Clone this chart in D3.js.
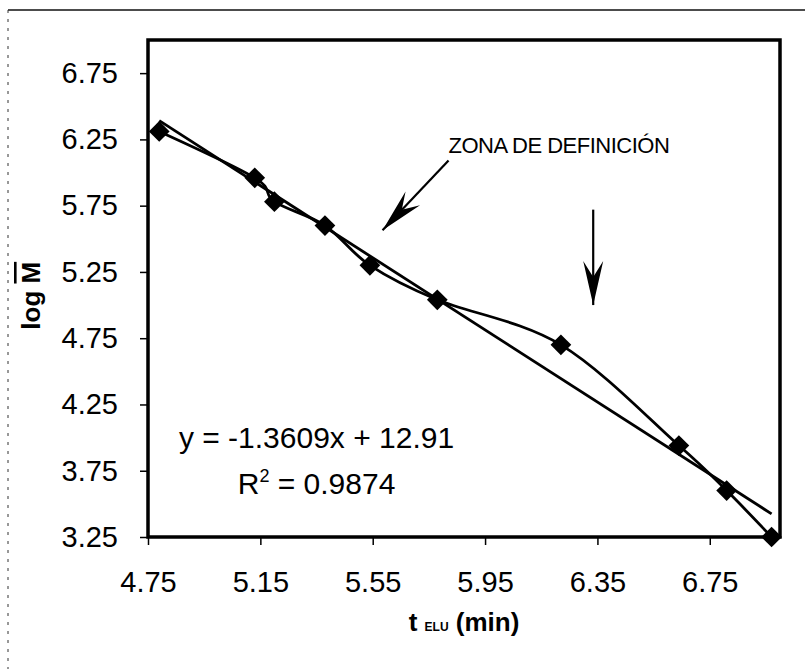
<!DOCTYPE html>
<html>
<head>
<meta charset="utf-8">
<script src="https://cdn.jsdelivr.net/npm/d3@7"></script>
<style>
  body { margin: 0; background: #fff; }
  svg text { font-family: Arial, "Liberation Sans", sans-serif; fill: #000; }
</style>
</head>
<body>
<script>
// elution time (min) vs log M of the standards
var tElu = [4.79, 5.13, 5.20, 5.38, 5.54, 5.78, 6.22, 6.64, 6.81, 6.97];
var logM = [6.31, 5.96, 5.78, 5.60, 5.30, 5.04, 4.70, 3.94, 3.60, 3.25];

// linear fit printed on the chart
var slope = -1.3609, intercept = 12.91;
var eqLines = ['y = -1.3609x + 12.91', 'R2 = 0.9874'];

var xTicks = [4.75, 5.15, 5.55, 5.95, 6.35, 6.75];
var yTicks = [3.25, 3.75, 4.25, 4.75, 5.25, 5.75, 6.25, 6.75];

var width = 807, height = 669;
var margin = {left: 148, right: 27, top: 40, bottom: 132};

var svg = d3.select('body').append('svg')
    .attr('width', width)
    .attr('height', height);

// x = t, y = log M
var x = d3.scaleLinear().domain([4.75, 7.0]).range([margin.left, width - margin.right]);
var y = d3.scaleLinear().domain([3.25, 7.0]).range([height - margin.bottom, margin.top]);

// scanned page frame
svg.append('line')
    .attr('x1', 8).attr('x2', 805).attr('y1', 10).attr('y2', 10)
    .style('stroke', '#111').style('stroke-width', 1.5);
svg.append('line')
    .attr('x1', 8).attr('x2', 8).attr('y1', 10).attr('y2', height)
    .style('stroke', '#333').style('stroke-width', 1)
    .style('stroke-dasharray', '3,6');

// axes
var yAxis = d3.axisLeft(y).tickValues(yTicks).tickSize(8).tickPadding(22)
    .tickFormat(d3.format('.2f'));
var xAxis = d3.axisBottom(x).tickValues(xTicks).tickSize(8).tickPadding(26)
    .tickFormat(d3.format('.2f'));

var gy = svg.append('g').attr('transform', 'translate(' + margin.left + ',0)').call(yAxis);
var gx = svg.append('g').attr('transform', 'translate(0,' + (height - margin.bottom) + ')').call(xAxis);
[gx, gy].forEach(function(g){
    g.select('.domain').remove();
    g.selectAll('.tick line').style('stroke', '#000').style('stroke-width', 1.5);
    g.selectAll('.tick text').style('font-size', '29px');
});

// plot frame
svg.append('rect')
    .attr('x', x(4.75)).attr('y', y(7.0))
    .attr('width', x(7.0) - x(4.75)).attr('height', y(3.25) - y(7.0))
    .style('fill', 'none').style('stroke', '#000').style('stroke-width', 3.5);

// axis titles
var yTitle = svg.append('text')
    .attr('transform', 'translate(40,' + y(5.07) + ') rotate(-90)')
    .attr('text-anchor', 'middle')
    .style('font-size', '26px').style('font-weight', 'bold');
yTitle.append('tspan').text('log ');
yTitle.append('tspan').text('M').style('text-decoration', 'overline');

var xTitle = svg.append('text')
    .attr('x', x(5.875)).attr('y', 631)
    .attr('text-anchor', 'middle')
    .style('font-size', '26px').style('font-weight', 'bold');
xTitle.append('tspan').text('t ');
xTitle.append('tspan').text('ELU').style('font-size', '12px');
xTitle.append('tspan').text(' (min)');

// trendline over the data range
var xr = d3.extent(tElu);
svg.append('line')
    .attr('x1', x(xr[0])).attr('y1', y(slope * xr[0] + intercept))
    .attr('x2', x(xr[1])).attr('y2', y(slope * xr[1] + intercept))
    .style('stroke', '#000').style('stroke-width', 2.8);

// smoothed data line
var pts = tElu.map(function(t, i){ return [t, logM[i]]; });
var smooth = d3.line()
    .x(function(d){ return x(d[0]); })
    .y(function(d){ return y(d[1]); })
    .curve(d3.curveCardinal.tension(0));
svg.append('path').datum(pts)
    .attr('d', smooth)
    .style('fill', 'none').style('stroke', '#000').style('stroke-width', 2.8);

// diamond markers
svg.selectAll('.pt').data(pts).enter().append('path')
    .attr('class', 'pt')
    .attr('d', d3.symbol().type(d3.symbolSquare).size(215))
    .attr('transform', function(d){ return 'translate(' + x(d[0]) + ',' + y(d[1]) + ') rotate(45)'; })
    .style('fill', '#000');

// regression text
var eq = svg.append('g').style('font-size', '30px');
eq.append('text').attr('x', x(5.35)).attr('y', y(3.92)).attr('text-anchor', 'middle').text(eqLines[0]);
var r2 = eq.append('text').attr('x', x(5.35)).attr('y', y(3.575)).attr('text-anchor', 'middle');
r2.append('tspan').text('R');
r2.append('tspan').text('2').attr('dy', -12).style('font-size', '18px');
r2.append('tspan').text(' = 0.9874').attr('dy', 12);

// annotation
svg.append('defs').append('marker')
    .attr('id', 'head')
    .attr('markerUnits', 'userSpaceOnUse')
    .attr('viewBox', '-44 -11 46 22')
    .attr('markerWidth', 46).attr('markerHeight', 22)
    .attr('refX', 0).attr('refY', 0)
    .attr('orient', 'auto')
    .append('path')
    .attr('d', 'M0,0 L-44,-10 L-28,0 L-44,10 Z')
    .style('fill', '#000');

var arrows = [
    [[5.82, 6.09], [5.585, 5.565]],
    [[6.335, 5.72], [6.335, 5.0]]
];
svg.selectAll('.arrow').data(arrows).enter().append('line')
    .attr('class', 'arrow')
    .attr('x1', function(d){ return x(d[0][0]); })
    .attr('y1', function(d){ return y(d[0][1]); })
    .attr('x2', function(d){ return x(d[1][0]); })
    .attr('y2', function(d){ return y(d[1][1]); })
    .attr('marker-end', 'url(#head)')
    .style('stroke', '#000').style('stroke-width', 2.2);

svg.append('text')
    .attr('x', x(5.82)).attr('y', y(6.15))
    .style('font-size', '22px').style('letter-spacing', '-0.5px')
    .text('ZONA DE DEFINICIÓN');
</script>
</body>
</html>
